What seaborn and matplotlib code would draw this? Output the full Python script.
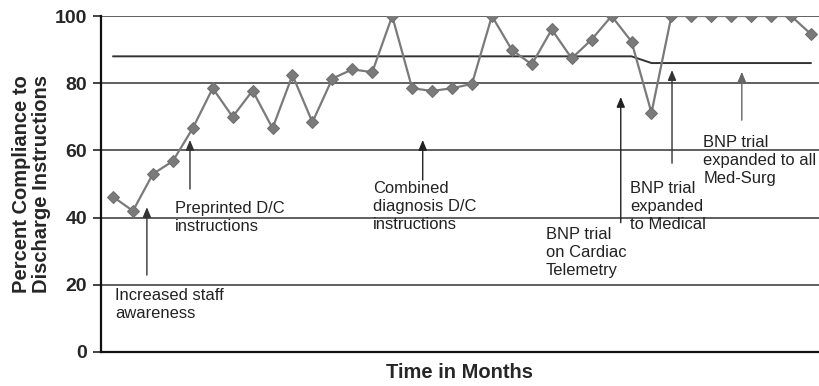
import pandas as pd
import matplotlib
matplotlib.use('Agg')
import matplotlib.pyplot as plt
import seaborn as sns

sns.set_style('white')
plt.rcParams['font.family'] = ['Liberation Sans', 'DejaVu Sans']

# 월별 준수율 (%)
months = list(range(1, 37))
compliance = [46.2, 42.0, 53.0, 56.8, 66.6, 78.5, 70.0, 77.8, 66.6, 82.4,
              68.4, 81.4, 84.1, 83.3, 100, 78.5, 77.7, 78.5, 79.8, 100,
              89.9, 85.6, 96.0, 87.4, 93.0, 100, 92.4, 71.2, 100, 100,
              100, 100, 100, 100, 100, 94.6]
# 목표선
target = [88] * 27 + [86] * 9

# 주석: 화살표 x 위치, 머리, 꼬리 / 글자 위치와 내용
notes_x = [2.7, 4.86, 16.53, 26.46, 29.03, 32.53]
notes_head = [43.1, 63.1, 63.1, 75.9, 83.9, 83.4]
notes_tail = [22.9, 48.5, 51.2, 38.5, 56.2, 69.0]
text_x = [1.1, 4.11, 14.04, 22.7, 26.93, 30.6]
text_y = [14.0, 40.0, 43.2, 29.6, 43.3, 57.0]
labels = ['Increased staff\nawareness',
          'Preprinted D/C\ninstructions',
          'Combined\ndiagnosis D/C\ninstructions',
          'BNP trial\non Cardiac\nTelemetry',
          'BNP trial\nexpanded\nto Medical',
          'BNP trial\nexpanded to all\nMed-Surg']
arrow_colors = ['#333333', '#333333', '#222222', '#222222', '#333333', '#666666']

df = pd.DataFrame({'month': months, 'pct': compliance, 'target': target})

fig, ax = plt.subplots(figsize=(8.19, 3.86), dpi=100)
fig.subplots_adjust(left=0.1233, right=1.0, top=0.9585, bottom=0.0881)

for v in [20, 40, 60, 80, 100]:
    ax.axhline(v, color='#444444', lw=1.2, zorder=1)

sns.lineplot(data=df, x='month', y='target', color='#333333', lw=1.4, ax=ax, zorder=2)
sns.lineplot(data=df, x='month', y='pct', color='#7a7a7a', lw=1.6, marker='D',
             markersize=6, markeredgecolor='#6f6f6f', markerfacecolor='#7a7a7a', ax=ax, zorder=3)

for x, h, t, c in zip(notes_x, notes_head, notes_tail, arrow_colors):
    ax.annotate('', xy=(x, h), xytext=(x, t),
                arrowprops=dict(arrowstyle='-|>,head_length=0.6,head_width=0.25',
                                color=c, lw=1.0, shrinkA=0, shrinkB=0, mutation_scale=10))
for x, y, s in zip(text_x, text_y, labels):
    ax.text(x, y, s, ha='left', va='center', fontsize=11.9, color='#222222', linespacing=1.25)

ax.set_xlim(0.398, 36.4)
ax.set_ylim(0, 100)
ax.set_yticks([0, 20, 40, 60, 80, 100])
ax.set_xticks([])
ax.tick_params(axis='y', which='major', left=True, length=6, width=1.2, color='#222222',
               labelsize=14, pad=4)
for lab in ax.get_yticklabels():
    lab.set_fontweight('bold')
ax.set_xlabel('Time in Months', fontsize=14.5, fontweight='bold', labelpad=8)
ax.set_ylabel('Percent Compliance to\nDischarge Instructions', fontsize=14.5,
              fontweight='bold', labelpad=3, linespacing=1.05)

sns.despine(ax=ax, top=True, right=True)
ax.spines['left'].set_linewidth(1.6)
ax.spines['left'].set_color('#111111')
ax.spines['bottom'].set_linewidth(1.6)
ax.spines['bottom'].set_color('#111111')

fig.savefig('out.png', dpi=100)
